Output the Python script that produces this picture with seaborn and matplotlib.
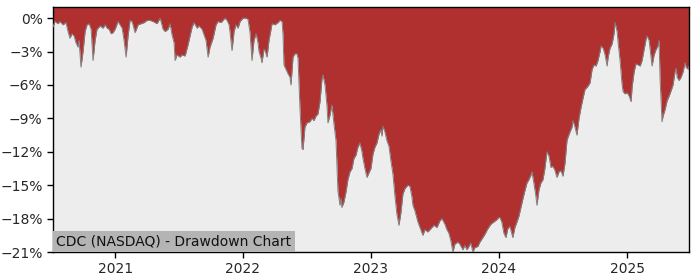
import numpy as np
import pandas as pd
import matplotlib
matplotlib.use("Agg")
import matplotlib.pyplot as plt
import matplotlib.ticker as mticker
import seaborn as sns

# decimal-year dates and drawdown (%)
years = [
    2020.516, 2020.531, 2020.555, 2020.570, 2020.594, 2020.617, 2020.633, 2020.648, 2020.664, 2020.680,
    2020.695, 2020.711, 2020.719, 2020.734, 2020.750, 2020.766, 2020.781, 2020.797, 2020.813, 2020.828,
    2020.844, 2020.859, 2020.883, 2020.906, 2020.922, 2020.938, 2020.953, 2020.969, 2020.984, 2021.000,
    2021.023, 2021.039, 2021.055, 2021.070, 2021.086, 2021.102, 2021.117, 2021.133, 2021.156, 2021.180,
    2021.203, 2021.227, 2021.250, 2021.273, 2021.297, 2021.328, 2021.352, 2021.375, 2021.391, 2021.414,
    2021.430, 2021.445, 2021.461, 2021.469, 2021.484, 2021.508, 2021.523, 2021.547, 2021.570, 2021.586,
    2021.602, 2021.617, 2021.641, 2021.656, 2021.680, 2021.695, 2021.711, 2021.727, 2021.742, 2021.766,
    2021.789, 2021.805, 2021.828, 2021.859, 2021.875, 2021.891, 2021.898, 2021.914, 2021.930, 2021.945,
    2021.961, 2021.977, 2022.000, 2022.023, 2022.039, 2022.055, 2022.070, 2022.086, 2022.102, 2022.117,
    2022.125, 2022.141, 2022.148, 2022.164, 2022.172, 2022.188, 2022.203, 2022.227, 2022.250, 2022.273,
    2022.289, 2022.305, 2022.313, 2022.320, 2022.336, 2022.352, 2022.367, 2022.375, 2022.391, 2022.406,
    2022.422, 2022.430, 2022.445, 2022.461, 2022.469, 2022.484, 2022.500, 2022.523, 2022.539, 2022.555,
    2022.570, 2022.586, 2022.602, 2022.617, 2022.625, 2022.641, 2022.656, 2022.664, 2022.680, 2022.695,
    2022.711, 2022.727, 2022.734, 2022.742, 2022.758, 2022.766, 2022.773, 2022.789, 2022.805, 2022.820,
    2022.836, 2022.852, 2022.867, 2022.883, 2022.898, 2022.914, 2022.930, 2022.938, 2022.953, 2022.969,
    2022.984, 2023.000, 2023.016, 2023.031, 2023.047, 2023.063, 2023.078, 2023.086, 2023.094, 2023.109,
    2023.125, 2023.141, 2023.156, 2023.172, 2023.188, 2023.203, 2023.219, 2023.234, 2023.250, 2023.266,
    2023.289, 2023.305, 2023.320, 2023.328, 2023.344, 2023.367, 2023.383, 2023.406, 2023.422, 2023.445,
    2023.469, 2023.492, 2023.516, 2023.539, 2023.555, 2023.578, 2023.594, 2023.609, 2023.625, 2023.641,
    2023.656, 2023.680, 2023.695, 2023.719, 2023.734, 2023.750, 2023.766, 2023.781, 2023.797, 2023.813,
    2023.836, 2023.852, 2023.875, 2023.891, 2023.914, 2023.938, 2023.961, 2023.984, 2024.000, 2024.008,
    2024.023, 2024.039, 2024.055, 2024.070, 2024.086, 2024.102, 2024.109, 2024.125, 2024.141, 2024.156,
    2024.172, 2024.188, 2024.203, 2024.219, 2024.234, 2024.250, 2024.258, 2024.273, 2024.289, 2024.297,
    2024.313, 2024.328, 2024.344, 2024.359, 2024.375, 2024.391, 2024.406, 2024.422, 2024.438, 2024.453,
    2024.469, 2024.484, 2024.500, 2024.516, 2024.531, 2024.539, 2024.555, 2024.570, 2024.578, 2024.594,
    2024.609, 2024.625, 2024.641, 2024.656, 2024.672, 2024.688, 2024.695, 2024.711, 2024.727, 2024.742,
    2024.758, 2024.773, 2024.789, 2024.797, 2024.813, 2024.828, 2024.844, 2024.852, 2024.867, 2024.883,
    2024.898, 2024.906, 2024.922, 2024.930, 2024.945, 2024.961, 2024.969, 2024.984, 2025.000, 2025.016,
    2025.031, 2025.039, 2025.055, 2025.070, 2025.086, 2025.102, 2025.117, 2025.133, 2025.148, 2025.156,
    2025.172, 2025.180, 2025.195, 2025.211, 2025.227, 2025.242, 2025.250, 2025.258, 2025.273, 2025.281,
    2025.297, 2025.313, 2025.328, 2025.344, 2025.359, 2025.375, 2025.383, 2025.391, 2025.406, 2025.422,
    2025.438, 2025.453, 2025.461, 2025.477, 2025.484,
]
drawdown = [
    -0.8, -0.3, -0.5, -0.3, -0.6, -0.4, -1.2, -1.8, -1.4, -1.6,
    -2.2, -2.6, -2.0, -4.4, -3.0, -1.2, -0.6, -0.5, -1.0, -3.8,
    -2.0, -1.0, -0.7, -0.9, -0.6, -0.9, -1.0, -1.4, -1.3, -1.0,
    -0.3, -0.6, -0.9, -2.0, -3.5, -1.5, -0.2, -0.3, -1.3, -0.6,
    -0.5, -0.4, -0.2, -0.2, -0.3, -0.5, 0.0, -1.0, -1.2, -1.0,
    -0.5, -1.5, -2.2, -3.8, -3.3, -3.5, -3.3, -3.4, -2.4, -1.6,
    -0.8, -0.4, -0.9, -0.7, -1.0, -1.5, -2.0, -3.5, -2.6, -1.8,
    -0.6, -0.3, -0.4, 0.0, -0.2, -0.6, -1.2, -2.9, -1.2, -0.6,
    -0.9, -0.3, 0.0, 0.0, -0.1, -1.3, -3.8, -2.0, -1.4, -2.2,
    -3.0, -3.6, -4.0, -2.8, -2.9, -3.5, -2.0, -0.5, -0.6, -0.4,
    -0.2, -0.3, -1.5, -4.2, -4.6, -5.0, -5.3, -6.0, -3.5, -3.2,
    -3.2, -3.6, -8.0, -11.7, -11.8, -9.8, -9.4, -9.3, -9.0, -9.2,
    -8.8, -8.6, -7.5, -5.5, -5.1, -6.0, -7.8, -9.4, -8.7, -7.8,
    -9.5, -11.0, -13.0, -15.5, -16.8, -16.2, -17.0, -16.5, -15.6, -14.5,
    -13.8, -13.5, -12.6, -12.3, -11.6, -11.2, -12.0, -12.6, -13.5, -14.3,
    -13.9, -13.5, -12.2, -11.6, -11.2, -10.4, -10.0, -10.6, -9.7, -10.2,
    -11.0, -11.5, -12.8, -14.0, -16.0, -17.6, -18.6, -17.5, -15.8, -15.3,
    -15.0, -15.1, -16.0, -16.8, -17.3, -18.3, -18.8, -19.5, -19.0, -19.2,
    -18.9, -18.6, -18.8, -18.2, -18.0, -18.5, -19.0, -19.3, -20.0, -21.0,
    -20.3, -20.1, -20.3, -20.8, -20.4, -20.8, -20.5, -20.2, -21.0, -20.6,
    -20.5, -20.1, -19.7, -19.4, -18.9, -18.5, -18.3, -18.1, -17.9, -17.9,
    -18.3, -19.3, -19.7, -18.9, -18.7, -19.4, -19.7, -18.8, -18.3, -17.8,
    -17.0, -16.2, -15.5, -14.8, -14.5, -14.1, -13.8, -14.8, -16.0, -16.8,
    -15.4, -14.8, -14.5, -13.5, -12.0, -12.4, -13.4, -13.3, -13.7, -14.3,
    -13.8, -13.7, -14.2, -13.0, -11.0, -10.7, -10.2, -9.8, -9.2, -9.8,
    -10.5, -9.0, -8.0, -7.2, -6.4, -6.2, -6.1, -5.8, -4.6, -4.2,
    -4.3, -3.8, -3.0, -2.5, -2.7, -3.3, -4.3, -3.5, -2.7, -2.3,
    -1.4, -0.4, -1.2, -2.2, -3.8, -6.0, -6.6, -6.8, -6.7, -7.0,
    -7.5, -6.2, -4.8, -4.1, -4.2, -4.3, -3.8, -2.8, -1.9, -1.6,
    -2.0, -2.8, -4.3, -3.3, -2.8, -2.5, -2.0, -5.5, -9.3, -8.8,
    -8.2, -7.4, -7.0, -6.5, -6.0, -4.8, -4.5, -5.3, -5.6, -5.3,
    -4.8, -4.0, -4.4, -4.6, -4.3,
]
y_ticks = [0, -3, -6, -9, -12, -15, -18, -21]
title_text = "CDC (NASDAQ) - Drawdown Chart"


def decimal_year_to_datetime(y):
    yr = int(np.floor(y))
    start = pd.Timestamp(year=yr, month=1, day=1)
    end = pd.Timestamp(year=yr + 1, month=1, day=1)
    return start + (end - start) * (y - yr)


df = pd.DataFrame({
    "date": [decimal_year_to_datetime(v) for v in years],
    "drawdown": drawdown,
})

sns.set_style("white")
plt.rcParams["font.family"] = ["DejaVu Sans"]

fig = plt.figure(figsize=(7, 2.8), dpi=100)
ax = fig.add_axes([53 / 700, 1 - 252 / 280, (689 - 53) / 700, (252 - 7) / 280])
ax.set_facecolor("#ededed")

top = 1.0
ax.fill_between(df["date"], df["drawdown"], top, color="#b03030", linewidth=0, zorder=2)
sns.lineplot(data=df, x="date", y="drawdown", ax=ax, color="#808080", linewidth=0.7, zorder=3)

ax.set_xlim(df["date"].min(), df["date"].max())
ax.set_ylim(-21, top)
ax.set_yticks(y_ticks)
ax.yaxis.set_major_formatter(mticker.FuncFormatter(lambda v, p: f"{v:.0f}%".replace("-", "\u2212")))
ax.xaxis.set_major_locator(matplotlib.dates.YearLocator())
ax.xaxis.set_major_formatter(matplotlib.dates.DateFormatter("%Y"))
ax.set_xlabel("")
ax.set_ylabel("")
ax.tick_params(axis="both", which="major", length=4, width=1, color="black", labelsize=10, left=True, bottom=True)
for s in ax.spines.values():
    s.set_color("black")
    s.set_linewidth(1)

ax.annotate(title_text, xy=(0, 0), xycoords="axes fraction", xytext=(2.3, 2.6), textcoords="offset points",
            ha="left", va="bottom", fontsize=10, color="#111111", zorder=5,
            bbox=dict(boxstyle="square,pad=0.23", facecolor="#b4b4b4", edgecolor="none"))

fig.savefig("out.png", dpi=100)
